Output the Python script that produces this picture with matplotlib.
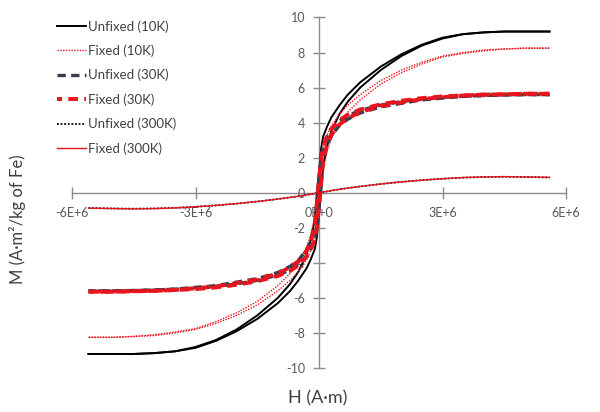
import matplotlib
matplotlib.use("Agg")
import matplotlib.pyplot as plt

# ---------------- data (H in A·m, M in A·m²/kg of Fe) ----------------
H_desc = [5.6e6, 5.0e6, 4.5e6, 4.0e6, 3.5e6, 3.0e6, 2.5e6, 2.0e6, 1.5e6, 1.0e6,
          0.7e6, 0.5e6, 0.3e6, 0.2e6, 0.1e6, 0.05e6, 0.0, -0.05e6, -0.1e6, -0.2e6,
          -0.3e6, -0.5e6, -0.7e6, -1.0e6, -1.5e6, -2.0e6, -2.5e6, -3.0e6, -3.5e6,
          -4.0e6, -4.5e6, -5.0e6, -5.6e6]
H_asc = [-5.6e6, -5.0e6, -4.5e6, -4.0e6, -3.5e6, -3.0e6, -2.5e6, -2.0e6, -1.5e6, -1.0e6,
         -0.7e6, -0.5e6, -0.3e6, -0.2e6, -0.1e6, -0.05e6, 0.0, 0.05e6, 0.1e6, 0.2e6,
         0.3e6, 0.5e6, 0.7e6, 1.0e6, 1.5e6, 2.0e6, 2.5e6, 3.0e6, 3.5e6,
         4.0e6, 4.5e6, 5.0e6, 5.6e6]

unfixed10_desc = [9.2, 9.2, 9.2, 9.15, 9.05, 8.85, 8.45, 7.9, 7.2, 6.3,
                  5.6, 5.0, 4.3, 3.8, 3.2, 2.5, 1.2, 0.0, -1.5, -2.7,
                  -3.5, -4.5, -5.2, -6.0, -7.0, -7.8, -8.4, -8.8, -9.05,
                  -9.15, -9.2, -9.2, -9.2]
unfixed10_asc = [-9.2, -9.2, -9.2, -9.15, -9.05, -8.85, -8.45, -7.9, -7.2, -6.3,
                 -5.6, -5.0, -4.3, -3.8, -3.2, -2.5, -1.2, 0.0, 1.5, 2.7,
                 3.5, 4.5, 5.2, 6.0, 7.0, 7.8, 8.4, 8.8, 9.05,
                 9.15, 9.2, 9.2, 9.2]

fixed10_desc = [8.25, 8.25, 8.2, 8.15, 8.0, 7.8, 7.45, 7.0, 6.4, 5.6,
                5.0, 4.5, 3.8, 3.3, 2.6, 1.9, 0.9, 0.0, -1.3, -2.4,
                -3.1, -4.0, -4.6, -5.3, -6.2, -6.85, -7.35, -7.75, -7.95,
                -8.1, -8.2, -8.25, -8.25]
fixed10_asc = [-8.25, -8.25, -8.2, -8.15, -8.0, -7.8, -7.45, -7.0, -6.4, -5.6,
               -5.0, -4.5, -3.8, -3.3, -2.6, -1.9, -0.9, 0.0, 1.3, 2.4,
               3.1, 4.0, 4.6, 5.3, 6.2, 6.85, 7.35, 7.75, 7.95,
               8.1, 8.2, 8.25, 8.25]

unfixed30_desc = [5.6, 5.6, 5.58, 5.55, 5.5, 5.45, 5.35, 5.2, 5.0, 4.7,
                  4.4, 4.1, 3.6, 3.2, 2.6, 1.85, 0.75, -0.5, -1.75, -2.75,
                  -3.25, -3.85, -4.2, -4.55, -4.9, -5.1, -5.3, -5.4, -5.5,
                  -5.55, -5.58, -5.6, -5.6]
unfixed30_asc = [-5.6, -5.6, -5.58, -5.55, -5.5, -5.45, -5.35, -5.2, -5.0, -4.7,
                 -4.4, -4.1, -3.6, -3.2, -2.6, -1.85, -0.75, 0.5, 1.75, 2.75,
                 3.25, 3.85, 4.2, 4.55, 4.9, 5.1, 5.3, 5.4, 5.5,
                 5.55, 5.58, 5.6, 5.6]

fixed30_desc = [5.65, 5.65, 5.62, 5.6, 5.55, 5.5, 5.4, 5.25, 5.05, 4.75,
                4.45, 4.15, 3.65, 3.25, 2.65, 1.9, 0.8, -0.5, -1.8, -2.8,
                -3.3, -3.9, -4.25, -4.6, -4.95, -5.15, -5.35, -5.45, -5.55,
                -5.6, -5.62, -5.65, -5.65]
fixed30_asc = [-5.65, -5.65, -5.62, -5.6, -5.55, -5.5, -5.4, -5.25, -5.05, -4.75,
               -4.45, -4.15, -3.65, -3.25, -2.65, -1.9, -0.8, 0.5, 1.8, 2.8,
               3.3, 3.9, 4.25, 4.6, 4.95, 5.15, 5.35, 5.45, 5.55,
               5.6, 5.62, 5.65, 5.65]

H_300 = [-5.6e6, -5.0e6, -4.5e6, -4.0e6, -3.5e6, -3.0e6, -2.5e6, -2.0e6, -1.5e6, -1.0e6,
         -0.5e6, 0.0, 0.5e6, 1.0e6, 1.5e6, 2.0e6, 2.5e6, 3.0e6, 3.5e6, 4.0e6,
         4.5e6, 5.0e6, 5.6e6]
unfixed300 = [-0.87, -0.9, -0.91, -0.9, -0.86, -0.8, -0.72, -0.62, -0.5, -0.36,
              -0.2, 0.0, 0.2, 0.36, 0.5, 0.62, 0.72, 0.8, 0.86, 0.9,
              0.91, 0.9, 0.87]
fixed300 = [-0.88, -0.9, -0.92, -0.9, -0.87, -0.8, -0.72, -0.62, -0.5, -0.36,
            -0.2, 0.0, 0.2, 0.36, 0.5, 0.62, 0.72, 0.8, 0.87, 0.9,
            0.92, 0.9, 0.88]

x_ticks = [-6e6, -3e6, 0, 3e6, 6e6]
x_tick_labels = ["-6E+6", "-3E+6", "0E+0", "3E+6", "6E+6"]
y_ticks = [-10, -8, -6, -4, -2, 0, 2, 4, 6, 8, 10]
y_tick_labels = ["-10", "-8", "-6", "-4", "-2", "0", "2", "4", "6", "8", "10"]

legend_labels = ["Unfixed (10K)", "Fixed (10K)", "Unfixed (30K)", "Fixed (30K)",
                 "Unfixed (300K)", "Fixed (300K)"]

# ---------------- figure ----------------
plt.rcParams['font.family'] = ['Lato', 'DejaVu Sans']
fig = plt.figure(figsize=(6.0, 4.12), dpi=100)
ax = fig.add_axes([72 / 600, 44 / 412, 494 / 600, 350.5 / 412])

RED = '#e8141e'
axis_grey = '#8c8c8c'
text_grey = '#595959'

l1, = ax.plot(H_desc, unfixed10_desc, color='black', lw=1.4, zorder=3)
ax.plot(H_asc, unfixed10_asc, color='black', lw=1.4, zorder=3)

l2, = ax.plot(H_desc, fixed10_desc, color=RED, lw=1.0, ls=(0, (1, 1)), zorder=3)
ax.plot(H_asc, fixed10_asc, color=RED, lw=1.0, ls=(0, (1, 1)), zorder=3)

l3, = ax.plot(H_desc, unfixed30_desc, color='#3c3c4c', lw=2.4, ls=(0, (2.5, 1.6)), zorder=4)
ax.plot(H_asc, unfixed30_asc, color='#3c3c4c', lw=2.4, ls=(0, (2.5, 1.6)), zorder=4)

l4, = ax.plot(H_desc, fixed30_desc, color=RED, lw=2.8, ls=(1.2, (2.5, 1.6)), zorder=5)
ax.plot(H_asc, fixed30_asc, color=RED, lw=2.8, ls=(1.2, (2.5, 1.6)), zorder=5)

l5, = ax.plot(H_300, unfixed300, color='black', lw=1.3, ls=(0, (1, 1)), zorder=6)
l6, = ax.plot(H_300, fixed300, color=RED, lw=1.0, zorder=6)

ax.set_xlim(-6e6, 6e6)
ax.set_ylim(-10, 10)

for s in ['top', 'right']:
    ax.spines[s].set_visible(False)
for s in ['left', 'bottom']:
    ax.spines[s].set_position(('data', 0))
    ax.spines[s].set_color(axis_grey)
    ax.spines[s].set_linewidth(1.0)
    ax.spines[s].set_zorder(1)

ax.set_xticks(x_ticks)
ax.set_xticklabels(x_tick_labels)
ax.set_yticks(y_ticks)
ax.set_yticklabels(y_tick_labels)
ax.tick_params(axis='both', direction='inout', length=8, width=1.0, color=axis_grey,
               labelcolor=text_grey, labelsize=9)
ax.tick_params(axis='x', pad=6)
ax.tick_params(axis='y', pad=6)

fig.text(0.03, 193 / 412, "M (A·m²/kg of Fe)", rotation=90, ha='center', va='center',
         fontsize=12, color='#404040')
fig.text(318 / 600, 1 - 398 / 412, "H (A·m)", ha='center', va='center',
         fontsize=13, color='#404040')

leg = fig.legend([l1, l2, l3, l4, l5, l6], legend_labels, loc='upper left',
                 bbox_to_anchor=(57 / 600, 1 - 20 / 412), frameon=False, fontsize=9.5,
                 handlelength=2.2, handletextpad=0.15, labelspacing=0.9, borderaxespad=0,
                 borderpad=0)
for t in leg.get_texts():
    t.set_color('#404040')

fig.savefig("out.png", dpi=100, facecolor='white')
